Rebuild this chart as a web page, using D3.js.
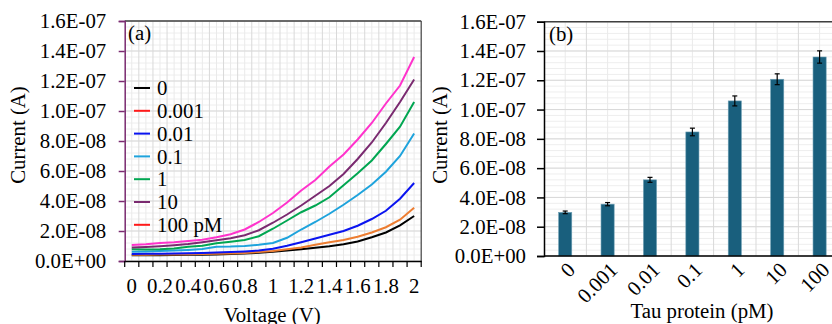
<!DOCTYPE html>
<html>
<head>
<meta charset="utf-8">
<script src="https://cdn.jsdelivr.net/npm/d3@7"></script>
<style>
    body { margin: 0; background: #fff; }
    svg { display: block; }
    svg text { font-family: "Liberation Serif", "Times New Roman", Times, serif !important; }
</style>
</head>
<body>
<svg id="chart" width="832" height="324"></svg>
<script>
// all currents below are in units of 1e-8 A
const UNIT = 1e-8;

// (a) I-V curves
const voltages = ["0", "0.1", "0.2", "0.3", "0.4", "0.5", "0.6", "0.7", "0.8", "0.9", "1",
    "1.1", "1.2", "1.3", "1.4", "1.5", "1.6", "1.7", "1.8", "1.9", "2"];
const voltTickLabels = ["0", "0.2", "0.4", "0.6", "0.8", "1", "1.2", "1.4", "1.6", "1.8", "2"];
const seriesNames = ["0", "0.001", "0.01", "0.1", "1", "10", "100 pM"];
const s0 = [0.38, 0.38, 0.39, 0.40, 0.41, 0.42, 0.43, 0.46, 0.50, 0.55, 0.62, 0.70, 0.78, 0.88, 0.98, 1.12, 1.30, 1.58, 1.90, 2.38, 3.00];
const s0001 = [0.42, 0.42, 0.43, 0.44, 0.45, 0.46, 0.48, 0.50, 0.54, 0.60, 0.67, 0.78, 0.90, 1.08, 1.25, 1.40, 1.62, 1.90, 2.25, 2.75, 3.55];
const s001 = [0.47, 0.48, 0.49, 0.50, 0.51, 0.54, 0.57, 0.60, 0.64, 0.70, 0.82, 1.02, 1.25, 1.50, 1.75, 2.00, 2.35, 2.80, 3.35, 4.15, 5.20];
const s01 = [0.62, 0.63, 0.66, 0.70, 0.74, 0.80, 0.95, 0.96, 1.00, 1.08, 1.20, 1.55, 2.10, 2.60, 3.15, 3.75, 4.40, 5.10, 5.95, 7.00, 8.50];
const s1 = [0.78, 0.76, 0.78, 0.84, 0.95, 1.02, 1.18, 1.28, 1.40, 1.65, 2.15, 2.70, 3.25, 3.70, 4.25, 5.05, 5.85, 6.70, 7.80, 8.95, 10.6];
const s10 = [0.90, 0.93, 0.98, 1.05, 1.13, 1.25, 1.38, 1.52, 1.72, 2.05, 2.55, 3.10, 3.70, 4.35, 5.00, 5.80, 6.80, 7.90, 9.20, 10.6, 12.1];
const s100 = [1.07, 1.12, 1.20, 1.25, 1.33, 1.42, 1.58, 1.78, 2.10, 2.60, 3.20, 3.90, 4.70, 5.40, 6.30, 7.10, 8.10, 9.20, 10.5, 11.7, 13.6];

// (b) current at 2 V vs tau concentration
const concentrations = ["0", "0.001", "0.01", "0.1", "1", "10", "100"];
const meanCurrent = [2.98, 3.54, 5.20, 8.47, 10.59, 12.07, 13.59];
const errCurrent = [0.09, 0.11, 0.17, 0.26, 0.34, 0.37, 0.42];

const yMax = 16 * UNIT;

var svg = d3.select("#chart");
var FS = "20.8px";

function sci(v) {
    if (Math.abs(v) < 1e-15) return "0.0E+00";
    var parts = d3.format(".1e")(v).split("e");
    var n = +parts[1];
    return parts[0] + "E" + (n < 0 ? "-" : "+") + String(Math.abs(n)).padStart(2, "0");
}

function drawGrid(g, x, y, left, right) {
    var top = y.range()[1], bottom = y.range()[0];
    // minor horizontal: 5 per major step
    var minor = d3.range(0, 41).map(k => k * yMax / 40);
    g.selectAll(".hmin").data(minor).enter().append("line")
        .attr("x1", left).attr("x2", right)
        .attr("y1", d => y(d)).attr("y2", d => y(d))
        .attr("stroke", "#eeeeee").attr("stroke-width", 1);
    // minor vertical at category centres
    g.selectAll(".vmin").data(x.domain()).enter().append("line")
        .attr("x1", d => x(d) + x.bandwidth() / 2).attr("x2", d => x(d) + x.bandwidth() / 2)
        .attr("y1", top).attr("y2", bottom)
        .attr("stroke", "#eaeaea").attr("stroke-width", 1);
    // major vertical at category edges
    g.selectAll(".vmaj").data(x.domain().slice(1)).enter().append("line")
        .attr("x1", d => x(d)).attr("x2", d => x(d))
        .attr("y1", top).attr("y2", bottom)
        .attr("stroke", "#d9d9d9").attr("stroke-width", 1);
    g.selectAll(".hmaj").data(y.ticks(8)).enter().append("line")
        .attr("x1", left).attr("x2", right)
        .attr("y1", d => y(d)).attr("y2", d => y(d))
        .attr("stroke", "#d9d9d9").attr("stroke-width", 1);
}

function styleAxis(ax, color) {
    ax.attr("font-family", null).attr("font-size", null);
    ax.selectAll("path, line").attr("stroke", color).attr("stroke-width", 1.5);
    ax.selectAll("text").attr("font-size", FS).attr("fill", "#000");
}

// ---------- panel (a) ----------
var xa = d3.scaleBand().domain(voltages).range([124.7, 421.2]);
var ya = d3.scaleLinear().domain([0, yMax]).range([261, 21]);
var pa = svg.append("g");

drawGrid(pa, xa, ya, 124.7, 421.2);

// top and right frame
pa.append("line").attr("x1", 124.7).attr("x2", 421.2).attr("y1", 21).attr("y2", 21)
    .attr("stroke", "#404040").attr("stroke-width", 1.5);
pa.append("line").attr("x1", 421.2).attr("x2", 421.2).attr("y1", 21).attr("y2", 261)
    .attr("stroke", "#404040").attr("stroke-width", 1.2);

var curves = [s0, s0001, s001, s01, s1, s10, s100];
var lineColors = ["#000000", "#ed7d31", "#0a14f0", "#1ea3dc", "#00a651", "#7a2a70", "#ff33cc"];
var legendColors = ["#000000", "#ff1a1a", "#0a14f0", "#1ea3dc", "#00a651", "#7a2a70", "#ff1a1a"];

var line = d3.line()
    .x((d, i) => xa(voltages[i]) + xa.bandwidth() / 2)
    .y(d => ya(d * UNIT));

pa.selectAll(".curve").data(curves).enter().append("path")
    .attr("class", "curve")
    .attr("fill", "none")
    .attr("stroke", (d, i) => lineColors[i])
    .attr("stroke-width", 2)
    .attr("d", line);

// y axis (a)
var yAxisA = pa.append("g").attr("transform", "translate(124.7,0)")
    .call(d3.axisLeft(ya).ticks(8).tickFormat(sci).tickSize(6).tickPadding(12.5));
styleAxis(yAxisA, "#7a2a70");

// x axis (a)
var xAxisA = pa.append("g").attr("transform", "translate(0,261)")
    .call(d3.axisBottom(xa).tickSize(0).tickPadding(17)
        .tickValues(voltTickLabels));
styleAxis(xAxisA, "#000");
pa.selectAll(".xtick").data(voltages.concat(["end"])).enter().append("line")
    .attr("x1", (d, i) => i < voltages.length ? xa(d) : xa.range()[1])
    .attr("x2", (d, i) => i < voltages.length ? xa(d) : xa.range()[1])
    .attr("y1", 261).attr("y2", 267)
    .attr("stroke", "#000").attr("stroke-width", 1.2);

pa.append("text").attr("x", 272).attr("y", 322).attr("text-anchor", "middle")
    .attr("font-size", FS).text("Voltage (V)");
pa.append("text").attr("transform", "translate(25,135) rotate(-90)").attr("text-anchor", "middle")
    .attr("font-size", FS).text("Current (A)");
pa.append("text").attr("x", 128).attr("y", 40).attr("font-size", FS).text("(a)");

// legend
var leg = pa.append("g").attr("transform", "translate(134,88)");
var items = leg.selectAll("g").data(seriesNames).enter().append("g")
    .attr("transform", (d, i) => "translate(0," + (i * 22.8) + ")");
items.append("line").attr("x1", 0).attr("x2", 16).attr("y1", 0).attr("y2", 0)
    .attr("stroke", (d, i) => legendColors[i]).attr("stroke-width", 2);
items.append("text").attr("x", 23).attr("dy", "0.35em").attr("font-size", FS).text(d => d);

// ---------- panel (b) ----------
var xb = d3.scaleBand().domain(concentrations).range([544, 840.8]);
var yb = d3.scaleLinear().domain([0, yMax]).range([256, 21.7]);
var pb = svg.append("g");

drawGrid(pb, xb, yb, 544, 840.8);
pb.append("line").attr("x1", 544).attr("x2", 840.8).attr("y1", 21.7).attr("y2", 21.7)
    .attr("stroke", "#404040").attr("stroke-width", 1.5);

var bw = xb.bandwidth() * 0.31;
pb.selectAll(".bar").data(meanCurrent).enter().append("rect")
    .attr("class", "bar")
    .attr("x", (d, i) => xb(concentrations[i]) + xb.bandwidth() / 2 - bw / 2)
    .attr("y", d => yb(d * UNIT))
    .attr("width", bw)
    .attr("height", d => yb(0) - yb(d * UNIT))
    .attr("fill", "#195f7d")
    .attr("stroke", "#6e9fb4").attr("stroke-width", 0.6);

var eb = pb.selectAll(".err").data(meanCurrent).enter().append("g")
    .attr("transform", (d, i) => "translate(" + (xb(concentrations[i]) + xb.bandwidth() / 2) + ",0)");
eb.append("line").attr("y1", (d, i) => yb((d - errCurrent[i]) * UNIT)).attr("y2", (d, i) => yb((d + errCurrent[i]) * UNIT))
    .attr("stroke", "#000").attr("stroke-width", 1.2);
eb.append("line").attr("x1", -2.5).attr("x2", 2.5).attr("y1", (d, i) => yb((d - errCurrent[i]) * UNIT)).attr("y2", (d, i) => yb((d - errCurrent[i]) * UNIT))
    .attr("stroke", "#000").attr("stroke-width", 1.2);
eb.append("line").attr("x1", -2.5).attr("x2", 2.5).attr("y1", (d, i) => yb((d + errCurrent[i]) * UNIT)).attr("y2", (d, i) => yb((d + errCurrent[i]) * UNIT))
    .attr("stroke", "#000").attr("stroke-width", 1.2);

var yAxisB = pb.append("g").attr("transform", "translate(544,0)")
    .call(d3.axisLeft(yb).ticks(8).tickFormat(sci).tickSize(7).tickPadding(11));
styleAxis(yAxisB, "#000");

pb.append("line").attr("x1", 544).attr("x2", 840.8).attr("y1", 256).attr("y2", 256)
    .attr("stroke", "#000").attr("stroke-width", 1.5);
pb.selectAll(".xl").data(concentrations).enter().append("text")
    .attr("transform", d => "translate(" + (xb(d) + xb.bandwidth() / 2 + 6) + ",266) rotate(-45)")
    .attr("text-anchor", "end").attr("dy", "0.35em").attr("font-size", FS).text(d => d);

pb.append("text").attr("x", 702).attr("y", 318).attr("text-anchor", "middle")
    .attr("font-size", FS).text("Tau protein (pM)");
pb.append("text").attr("transform", "translate(447,135) rotate(-90)").attr("text-anchor", "middle")
    .attr("font-size", FS).text("Current (A)");
pb.append("text").attr("x", 549).attr("y", 41).attr("font-size", FS).text("(b)");
</script>
</body>
</html>
